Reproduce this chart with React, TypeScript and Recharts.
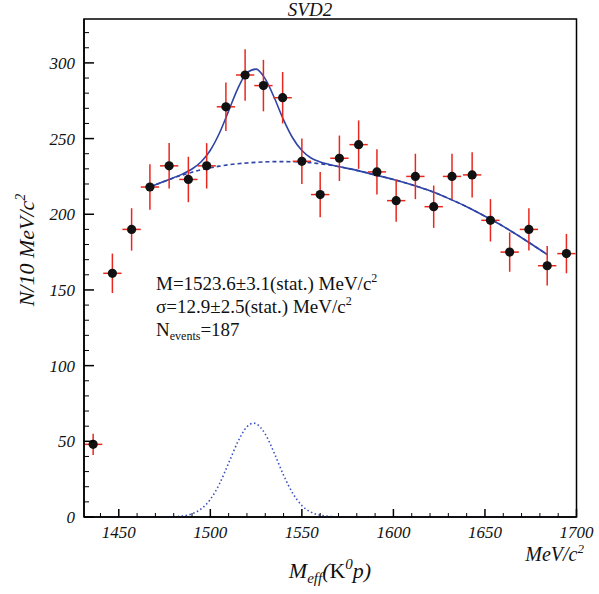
import React from "react";
import {
  ComposedChart,
  Scatter,
  Line,
  XAxis,
  YAxis,
  ErrorBar,
  ReferenceArea,
} from "recharts";

// measured points (bin centres in MeV/c^2)
const massBins = [
  1436, 1446.5, 1457, 1467, 1477.5, 1488, 1498, 1508.5, 1519, 1529, 1539.5, 1550, 1560,
  1570.5, 1581, 1591, 1601.5, 1612, 1622, 1632, 1643, 1653, 1663.5, 1674, 1684, 1694.5,
];
const counts = [
  48, 161, 190, 218, 232, 223, 232, 271, 292, 285, 277, 235, 213, 237, 246, 228, 209, 225,
  205, 225, 226, 196, 175, 190, 166, 174,
];
const countErrors = [
  7, 13, 14, 15, 15, 15, 15, 16, 17, 17, 17, 15, 15, 15, 16, 15, 14, 15, 14, 15, 15, 14, 13,
  14, 13, 13,
];
const binHalfWidth = [
  5, 5, 5, 5, 5, 5, 5, 5, 5, 5, 5, 5, 5, 5, 5, 5, 5, 5, 5, 5, 5, 5, 5, 5, 5, 5,
];

// fit curves
const fitX = [
  1467, 1470, 1475, 1480, 1485, 1490, 1495, 1500, 1505, 1510, 1515, 1520, 1525, 1530, 1535,
  1540, 1545, 1550, 1555, 1560, 1565, 1570, 1580, 1590, 1600, 1610, 1620, 1630, 1640, 1650,
  1660, 1670, 1684,
];
const fitTotal = [
  218, 219.5, 221.8, 224.2, 226.7, 229.9, 234.7, 242.3, 253.7, 268.3, 283, 293.5, 295.9,
  289.4, 276.8, 262.4, 250.4, 242.1, 237.2, 234.6, 232.9, 231.5, 229, 226, 223, 219.5, 215.5,
  210.5, 205, 198.7, 192, 184.5, 173.4,
];
const fitBackground = [
  218, 219.5, 221.8, 224, 226, 227.8, 229.4, 230.7, 231.8, 232.7, 233.4, 233.9, 234.3, 234.6,
  234.8, 234.8, 234.7, 234.5, 234, 233.4, 232.5, 231.5, 229, 226, 223, 219.5, 215.5, 210.5,
  205, 198.7, 192, 184.5, 173.4,
];
const signalX = [
  1445, 1470, 1480, 1485, 1490, 1495, 1500, 1505, 1510, 1515, 1520, 1523.6, 1525, 1530, 1535,
  1540, 1545, 1550, 1555, 1560, 1565, 1570, 1580, 1690,
];
const signalY = [
  0, 0, 0.2, 0.7, 2.1, 5.3, 11.6, 21.9, 35.6, 49.6, 59.6, 62, 61.6, 54.8, 42, 27.6, 15.7,
  7.6, 3.2, 1.2, 0.4, 0.1, 0, 0,
];

const xTicks = [
  1440, 1450, 1460, 1470, 1480, 1490, 1500, 1510, 1520, 1530, 1540, 1550, 1560, 1570, 1580,
  1590, 1600, 1610, 1620, 1630, 1640, 1650, 1660, 1670, 1680, 1690, 1700,
];
const yTicks = [
  0, 10, 20, 30, 40, 50, 60, 70, 80, 90, 100, 110, 120, 130, 140, 150, 160, 170, 180, 190,
  200, 210, 220, 230, 240, 250, 260, 270, 280, 290, 300, 310, 320,
];

const W = 599;
const H = 594;
const PLOT_LEFT = 84;
const PLOT_TOP = 19;
const PLOT_RIGHT = 576.5;
const PLOT_BOTTOM = 517;
const X_MIN = 1431;
const X_MAX = 1700;
const Y_MAX = 329;

const BLUE = "#2e44a6";
const RED = "#e8281e";
const SERIF = "'Liberation Serif', 'DejaVu Serif', serif";

const points = massBins.map((x, i) => ({
  x,
  y: counts[i],
  ey: countErrors[i],
  ex: binHalfWidth[i],
}));
const total = fitX.map((x, i) => ({ x, y: fitTotal[i] }));
const background = fitX.map((x, i) => ({ x, y: fitBackground[i] }));
const signal = signalX.map((x, i) => ({ x, y: signalY[i] }));

function XTick({ x, payload }: any) {
  const v = payload.value;
  const major = v % 50 === 0;
  return (
    <g>
      <line
        x1={x}
        x2={x}
        y1={PLOT_BOTTOM}
        y2={PLOT_BOTTOM - (major ? 8 : 4)}
        stroke="#000"
        strokeWidth={major ? 1.5 : 1}
      />
      {major && (
        <text
          x={x}
          y={PLOT_BOTTOM + 21}
          textAnchor="middle"
          fontFamily={SERIF}
          fontStyle="italic"
          fontSize={17}
          fill="#111"
        >
          {v}
        </text>
      )}
    </g>
  );
}

function YTick({ y, payload }: any) {
  const v = payload.value;
  const major = v % 50 === 0;
  return (
    <g>
      <line
        x1={PLOT_LEFT}
        x2={PLOT_LEFT + (major ? 10 : 5)}
        y1={y}
        y2={y}
        stroke="#000"
        strokeWidth={major ? 1.5 : 1}
      />
      {major && (
        <text
          x={PLOT_LEFT - 9}
          y={y + 6}
          textAnchor="end"
          fontFamily={SERIF}
          fontStyle="italic"
          fontSize={17}
          fill="#111"
        >
          {v}
        </text>
      )}
    </g>
  );
}

export default function App() {
  return (
    <div
      style={{
        position: "absolute",
        left: 0,
        top: 0,
        width: W,
        height: H,
        background: "#fff",
      }}
    >
      <ComposedChart
        width={W}
        height={H}
        margin={{ top: PLOT_TOP, right: W - PLOT_RIGHT, bottom: 0, left: 0 }}
      >
        <XAxis
          type="number"
          dataKey="x"
          domain={[X_MIN, X_MAX]}
          ticks={xTicks}
          interval={0}
          allowDataOverflow
          height={H - PLOT_BOTTOM}
          axisLine={{ stroke: "#000", strokeWidth: 1.5 }}
          tickLine={false}
          tick={<XTick />}
        />
        <YAxis
          type="number"
          dataKey="y"
          domain={[0, Y_MAX]}
          ticks={yTicks}
          interval={0}
          allowDataOverflow
          width={PLOT_LEFT}
          axisLine={{ stroke: "#000", strokeWidth: 1.5 }}
          tickLine={false}
          tick={<YTick />}
        />
        <ReferenceArea
          x1={X_MIN}
          x2={X_MAX}
          y1={0}
          y2={Y_MAX}
          fill="none"
          stroke="#000"
          strokeWidth={1.5}
          ifOverflow="visible"
        />
        <Line
          data={signal}
          dataKey="y"
          type="monotone"
          stroke="#3a52c4"
          strokeWidth={1.6}
          strokeDasharray="1.5 2.5"
          dot={false}
          isAnimationActive={false}
        />
        <Line
          data={background}
          dataKey="y"
          type="monotone"
          stroke={BLUE}
          strokeWidth={1.6}
          strokeDasharray="4 3"
          dot={false}
          isAnimationActive={false}
        />
        <Line
          data={total}
          dataKey="y"
          type="monotone"
          stroke={BLUE}
          strokeWidth={1.6}
          dot={false}
          isAnimationActive={false}
        />
        <Scatter
          data={points}
          dataKey="y"
          isAnimationActive={false}
          shape={(p: any) => <circle cx={p.cx} cy={p.cy} r={4.6} fill="#111" />}
        >
          <ErrorBar dataKey="ex" direction="x" width={0} stroke={RED} strokeWidth={1.5} />
          <ErrorBar dataKey="ey" direction="y" width={0} stroke={RED} strokeWidth={1.5} />
        </Scatter>
      </ComposedChart>
      <svg
        width={W}
        height={H}
        style={{ position: "absolute", left: 0, top: 0, pointerEvents: "none" }}
      >
        <text
          x={310}
          y={16}
          textAnchor="middle"
          fontFamily={SERIF}
          fontStyle="italic"
          fontSize={19}
          fill="#111"
        >
          SVD2
        </text>
        <g fontFamily={SERIF} fontSize={19} fill="#111">
          <text x={156} y={290}>
            M=1523.6±3.1(stat.) MeV/c<tspan dy={-8} fontSize={12}>2</tspan>
          </text>
          <text x={156} y={313}>
            σ=12.9±2.5(stat.) MeV/c<tspan dy={-8} fontSize={12}>2</tspan>
          </text>
          <text x={156} y={336}>
            N<tspan dy={4} fontSize={12}>events</tspan>
            <tspan dy={-4}>=187</tspan>
          </text>
        </g>
        <text
          x={330}
          y={578}
          textAnchor="middle"
          fontFamily={SERIF}
          fontSize={22}
          fill="#111"
        >
          <tspan fontStyle="italic">M</tspan>
          <tspan fontStyle="italic" fontSize={15} dy={5}>eff</tspan>
          <tspan fontStyle="italic" dy={-5}>(</tspan>
          <tspan>K</tspan>
          <tspan fontStyle="italic" fontSize={15} dy={-9}>0</tspan>
          <tspan fontStyle="italic" dy={9}>p)</tspan>
        </text>
        <text
          x={584}
          y={561}
          textAnchor="end"
          fontFamily={SERIF}
          fontStyle="italic"
          fontSize={20}
          fill="#111"
        >
          MeV/c<tspan fontSize={13} dy={-8}>2</tspan>
        </text>
        <text
          transform="translate(34 250) rotate(-90)"
          textAnchor="middle"
          fontFamily={SERIF}
          fontStyle="italic"
          fontSize={22}
          fill="#111"
        >
          N/10 MeV/c<tspan fontSize={14} dy={-9}>2</tspan>
        </text>
      </svg>
    </div>
  );
}
